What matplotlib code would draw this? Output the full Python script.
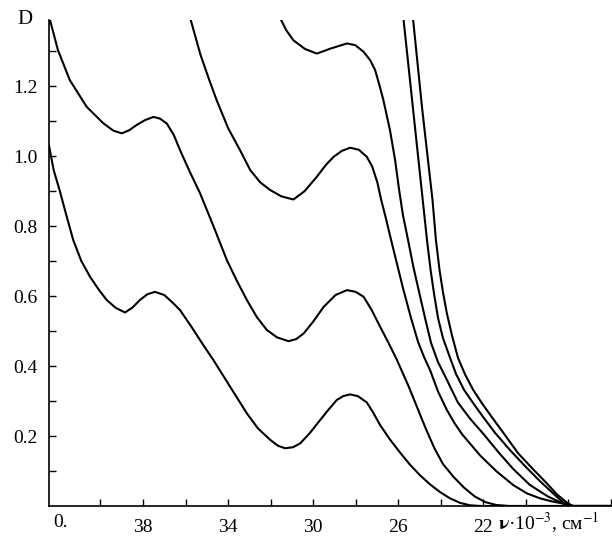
import matplotlib
matplotlib.use("Agg")
import matplotlib.pyplot as plt

plt.rcParams['font.family'] = ['Liberation Serif', 'DejaVu Serif']
plt.rcParams['mathtext.fontset'] = 'stix'

# wavenumber (x10^-3 cm^-1) and optical density D for each spectrum
a_x = [42.42, 42.2, 41.91, 41.6, 41.28, 40.9, 40.49, 40.1, 39.71, 39.3, 38.85, 38.5, 38.14, 37.8,
       37.44, 37.0, 36.57, 36.26, 35.7, 35.2, 34.69, 34.0, 33.12, 32.6, 32.02, 31.65, 31.32, 30.95,
       30.61, 30.15, 29.67, 29.30, 28.89, 28.59, 28.27, 27.90, 27.48, 27.19, 26.86, 26.39, 25.92,
       25.45, 24.98, 24.51, 24.04, 23.57, 23.10, 22.63, 22.1, 16.0]
a_d = [1.03, 0.96, 0.90, 0.83, 0.76, 0.70, 0.655, 0.62, 0.589, 0.567, 0.553, 0.567, 0.589, 0.605,
       0.612, 0.603, 0.579, 0.56, 0.51, 0.463, 0.417, 0.35, 0.265, 0.222, 0.189, 0.172, 0.165, 0.168,
       0.179, 0.209, 0.246, 0.274, 0.303, 0.314, 0.319, 0.314, 0.296, 0.268, 0.232, 0.19, 0.153,
       0.118, 0.088, 0.062, 0.04, 0.022, 0.009, 0.002, 0.0, 0.0]

b_x = [42.42, 42.0, 41.44, 40.65, 39.87, 39.4, 39.0, 38.65, 38.3, 37.9, 37.51, 37.2, 36.88, 36.55,
       36.26, 35.8, 35.32, 34.69, 34.06, 33.6, 33.12, 32.65, 32.18, 31.7, 31.16, 30.8, 30.45, 30.0,
       29.51, 28.95, 28.41, 28.0, 27.63, 27.25, 26.85, 26.45, 26.06, 25.5, 25.1, 24.7, 24.3, 23.9,
       23.4, 22.9, 22.4, 21.9, 21.4, 20.8, 16.0]
b_d = [1.40, 1.303, 1.217, 1.141, 1.094, 1.073, 1.065, 1.074, 1.089, 1.103, 1.112, 1.107, 1.093,
       1.06, 1.017, 0.955, 0.894, 0.80, 0.703, 0.645, 0.589, 0.54, 0.503, 0.482, 0.471, 0.477, 0.493,
       0.527, 0.569, 0.603, 0.617, 0.612, 0.598, 0.56, 0.512, 0.465, 0.417, 0.34, 0.28, 0.22, 0.165,
       0.12, 0.083, 0.052, 0.027, 0.011, 0.003, 0.0, 0.0]

c_x = [35.9, 35.3, 34.9, 34.54, 34.0, 33.44, 32.96, 32.49, 32.02, 31.5, 30.93, 30.4, 29.83, 29.4,
       29.04, 28.65, 28.26, 27.85, 27.48, 27.23, 26.99, 26.80, 26.61, 26.38, 26.15, 25.78, 25.40,
       25.07, 24.79, 24.51, 24.13, 23.72, 23.38, 23.0, 22.16, 21.40, 20.60, 19.95, 19.34, 18.77,
       18.25, 17.8, 16.0]
c_d = [1.42, 1.29, 1.22, 1.16, 1.08, 1.017, 0.96, 0.925, 0.903, 0.885, 0.876, 0.90, 0.941, 0.975,
       0.998, 1.015, 1.024, 1.018, 0.998, 0.971, 0.926, 0.874, 0.829, 0.771, 0.714, 0.623, 0.537,
       0.469, 0.426, 0.389, 0.327, 0.275, 0.239, 0.205, 0.145, 0.10, 0.06, 0.036, 0.022, 0.013,
       0.007, 0.0, 0.0]

d_x = [31.6, 31.27, 30.93, 30.38, 29.83, 29.2, 28.41, 28.02, 27.63, 27.32, 27.09, 26.90, 26.70,
       26.39, 26.15, 25.96, 25.78, 25.54, 25.29, 25.02, 24.74, 24.46, 24.13, 23.71, 23.20, 22.63,
       21.97, 21.31, 20.60, 19.81, 18.96, 18.25, 17.8, 16.0]
d_d = [1.40, 1.36, 1.331, 1.306, 1.293, 1.307, 1.322, 1.317, 1.298, 1.274, 1.246, 1.206, 1.16,
       1.074, 0.989, 0.903, 0.831, 0.76, 0.683, 0.611, 0.537, 0.466, 0.411, 0.36, 0.296, 0.25,
       0.204, 0.155, 0.106, 0.06, 0.027, 0.007, 0.0, 0.0]

e_x = [25.77, 25.31, 24.85, 24.65, 24.48, 24.31, 24.13, 23.90, 23.61, 23.29, 22.91, 22.49, 22.02,
       21.45, 20.75, 20.04, 19.34, 18.77, 18.25, 17.8, 16.0]
e_d = [1.40, 1.137, 0.874, 0.76, 0.674, 0.603, 0.537, 0.48, 0.431, 0.378, 0.332, 0.295, 0.255,
       0.209, 0.16, 0.114, 0.071, 0.039, 0.01, 0.0, 0.0]

f_x = [25.32, 24.88, 24.39, 24.23, 24.06, 23.90, 23.71, 23.47, 23.19, 22.86, 22.49, 22.06, 21.59,
       21.07, 20.37, 19.71, 19.02, 18.54, 18.08, 17.8, 16.0]
f_d = [1.40, 1.137, 0.874, 0.76, 0.674, 0.611, 0.549, 0.486, 0.423, 0.376, 0.333, 0.293, 0.253,
       0.21, 0.151, 0.108, 0.065, 0.033, 0.01, 0.0, 0.0]

curves = [(a_x, a_d), (b_x, b_d), (c_x, c_d), (d_x, d_d), (e_x, e_d), (f_x, f_d)]

x_major = [38, 34, 30, 26, 22]
x_ticks = [40, 38, 36, 34, 32, 30, 28, 26, 24, 22, 20, 18, 16]
y_major = [0.2, 0.4, 0.6, 0.8, 1.0, 1.2]
y_ticks = [0.1, 0.2, 0.3, 0.4, 0.5, 0.6, 0.7, 0.8, 0.9, 1.0, 1.1, 1.2, 1.3]

fig = plt.figure(figsize=(6.12, 5.37), dpi=100)
ax = fig.add_axes([49 / 612, 1 - 506 / 537, 562 / 612, 486 / 537])

for xs, ds in curves:
    ax.plot(xs, ds, color='black', lw=1.5, solid_capstyle='round', solid_joinstyle='round')

ax.set_xlim(42.42, 16.0)
ax.set_ylim(0, 1.389)

ax.spines['top'].set_visible(False)
ax.spines['right'].set_visible(False)
ax.spines['left'].set_linewidth(1.2)
ax.spines['bottom'].set_linewidth(1.2)

ax.set_xticks(x_ticks)
ax.set_xticklabels([str(t) if t in x_major else '' for t in x_ticks])
ax.set_yticks(y_ticks)
ax.set_yticklabels([('%.1f' % t) if any(abs(t - m) < 1e-9 for m in y_major) else '' for t in y_ticks])
ax.tick_params(axis='both', direction='in', length=5, width=1.0, labelsize=14, colors='black')
ax.tick_params(axis='x', pad=9)
ax.tick_params(axis='y', pad=8)

fig.text(25 / 612, 1 - 20 / 537, 'D', fontsize=15, ha='center', va='center')
ax.text(41.9, -0.047, '0.', fontsize=14, ha='center', va='center')
ax.text(21.3, -0.047, r'$\mathbf{\nu}$·10$^{-3}$, см$^{-1}$', fontsize=14, ha='left', va='center')

fig.savefig('out.png', dpi=100)
